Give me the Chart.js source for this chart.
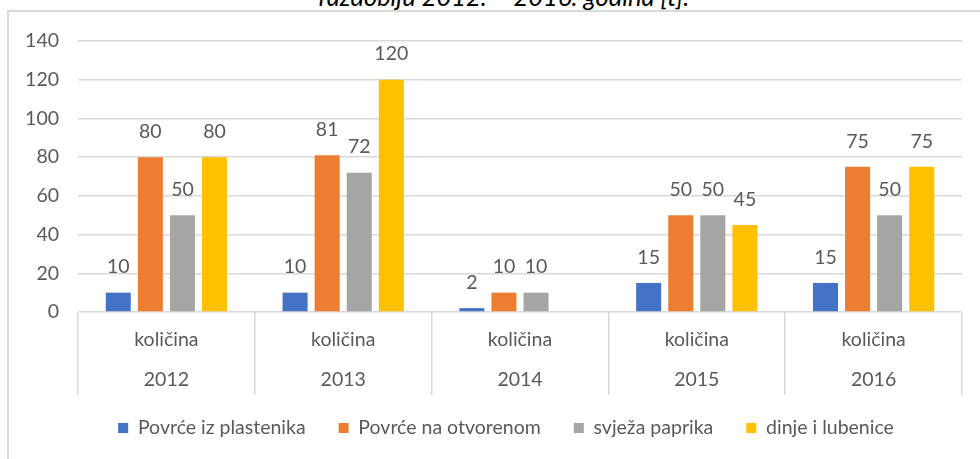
<!DOCTYPE html>
<html>
<head>
<meta charset="utf-8">
<script src="https://cdn.jsdelivr.net/npm/chart.js@4/dist/chart.umd.min.js"></script>
<style>
  html, body { margin: 0; padding: 0; background: #ffffff; overflow: hidden; }
  body { width: 980px; height: 459px; position: relative; }
  #title { position: absolute; left: 0; width: 1008px; top: -16px; text-align: center;
           font-family: Lato, sans-serif; font-style: italic; font-size: 25.5px; line-height: 25.5px; color: #000; white-space: nowrap; }
  #frame { position: absolute; left: 7px; top: 10px; width: 1000px; height: 500px;
           border-left: 2px solid #d9d9d9; border-top: 2px solid #d9d9d9; background: transparent; }
  #wrap { position: absolute; left: 0; top: 0; width: 980px; height: 459px; }
</style>
</head>
<body>
<div id="title">razdoblju 2012. – 2016. godina [t].</div>
<div id="frame"></div>
<div id="wrap"><canvas id="c" width="980" height="459"></canvas></div>
<script>
const years = ["2012", "2013", "2014", "2015", "2016"];
const measure = "količina";
const seriesNames = ["Povrće iz plastenika", "Povrće na otvorenom", "svježa paprika", "dinje i lubenice"];
const povrcePlastenik = [10, 10, 2, 15, 15];
const povrceOtvoreno = [80, 81, 10, 50, 75];
const svjezaPaprika = [50, 72, 10, 50, 50];
const dinjeLubenice = [80, 120, null, 45, 75];
const yTicks = { min: 0, max: 140, step: 20 };

const colors = ["#4472C4", "#ED7D31", "#A5A5A5", "#FFC000"];
const textColor = "#595959";
const gridColor = "#d9d9d9";
const fontFamily = "Lato, sans-serif";
const fontSize = 19.5;

const labelPlugin = {
  id: 'barValueLabels',
  afterDatasetsDraw(chart) {
    const ctx = chart.ctx;
    ctx.save();
    ctx.font = fontSize + "px " + fontFamily;
    ctx.fillStyle = textColor;
    ctx.textAlign = 'center';
    ctx.textBaseline = 'middle';
    chart.data.datasets.forEach((ds, di) => {
      const meta = chart.getDatasetMeta(di);
      meta.data.forEach((el, i) => {
        const v = ds.data[i];
        if (v === null || v === undefined) return;
        ctx.fillText(String(v), el.x, el.y - 25.5);
      });
    });
    ctx.restore();
  }
};

const legendShift = {
  id: 'legendShift',
  afterLayout(chart) {
    if (chart.legend) {
      chart.legend.left += 25;
      chart.legend.right += 25;
      chart.legend.top -= 9.75;
      chart.legend.bottom -= 9.75;
    }
  }
};

const allSeries = [povrcePlastenik, povrceOtvoreno, svjezaPaprika, dinjeLubenice];

new Chart(document.getElementById('c'), {
  type: 'bar',
  data: {
    labels: years.map(y => [measure, y]),
    datasets: allSeries.map((d, i) => ({
      label: seriesNames[i],
      data: d,
      backgroundColor: colors[i],
      borderWidth: 0,
      categoryPercentage: 0.726,
      barPercentage: 0.78
    }))
  },
  options: {
    responsive: false,
    animation: false,
    devicePixelRatio: 1,
    layout: { padding: { top: 41, left: 0, right: 18, bottom: 1.5 } },
    plugins: {
      legend: {
        position: 'bottom',
        labels: {
          boxWidth: 10, boxHeight: 10, padding: 33,
          color: textColor,
          font: { family: fontFamily, size: fontSize }
        }
      },
      tooltip: { enabled: false },
      title: { display: false }
    },
    scales: {
      x: {
        grid: { drawOnChartArea: false, drawTicks: true, tickLength: 83, color: gridColor, lineWidth: 1.5, offset: true },
        border: { display: false },
        ticks: {
          color: textColor, autoSkip: false, maxRotation: 0, padding: -75.75,
          font: { family: fontFamily, size: fontSize, lineHeight: 40.5 / fontSize }
        },
        afterFit(scale) { scale.height = 83; }
      },
      y: {
        min: yTicks.min, max: yTicks.max,
        grid: { color: gridColor, lineWidth: 1.5, drawTicks: false },
        border: { display: false },
        ticks: {
          stepSize: yTicks.step, color: textColor, padding: 19,
          font: { family: fontFamily, size: fontSize }
        },
        afterFit(scale) { scale.width = 78; }
      }
    }
  },
  plugins: [labelPlugin, legendShift]
});
</script>
</body>
</html>
